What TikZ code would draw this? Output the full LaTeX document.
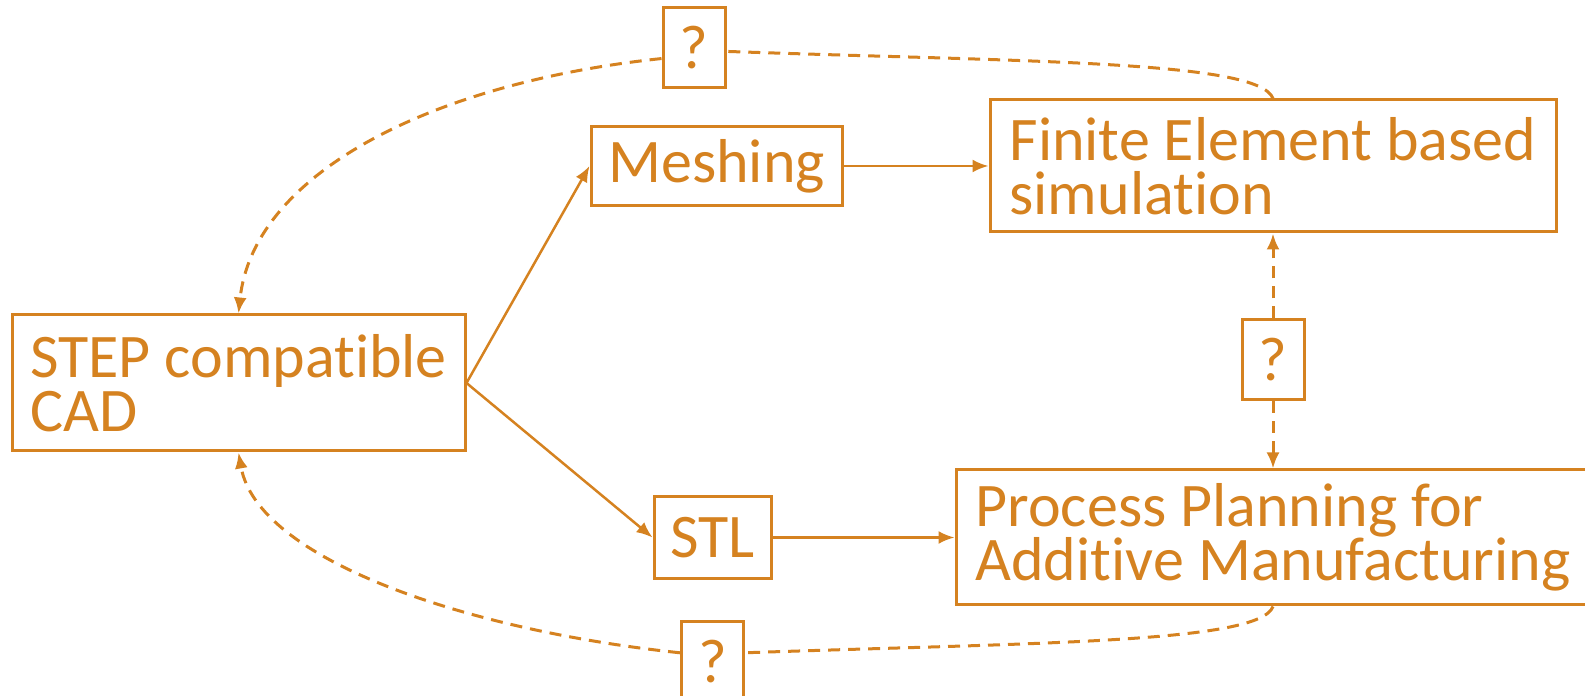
\documentclass[tikz,border=0pt]{standalone}
\usepackage{fontspec}
\setmainfont{Carlito}[Ligatures=NoCommon]
\usetikzlibrary
  {
    positioning,
    arrows.meta,
  }
\definecolor{ochre}{RGB}{213,130,32}
\newcommand\boxfont{\fontsize{62}{54}\selectfont\lineskiplimit=-60pt\relax}
\tikzset
  {
    >={Latex[length=16pt,width=13pt]},
    box/.style=
      {
        draw=ochre,
        line width=3pt,
        text=ochre,
        rectangle,
        inner sep=4pt,
        align=left,
        font=\boxfont,
      },
    query/.style={box, minimum width=62pt, minimum height=80pt},
    flow/.style={->, draw=ochre, line width=2.5pt},
    link/.style={flow, line width=3pt, dash pattern=on 12pt off 8pt},
  }
\begin{document}
\begin{tikzpicture}[x=1pt, y=1pt]
  \useasboundingbox (0,0) rectangle (1585,696);

  \node[box, minimum width=453pt, minimum height=136pt] (CAD) at (238.5,313) {STEP compatible\\CAD};
  \node[box, minimum width=566pt, minimum height=132pt] (FE) at (1273,530) {Finite Element based\\simulation};
  \node[box, minimum width=251pt, minimum height=79pt, left=145pt of FE] (mesh) {Meshing};
  \node[query, below=85pt of FE] (qmid) {?};
  \node[box, minimum width=634pt, minimum height=135pt, below=67pt of qmid] (PP) {Process Planning for\\Additive Manufacturing};
  \node[box, minimum width=117pt, minimum height=82pt, left=182pt of PP] (STL) {STL};
  \node[query, below=40pt of STL] (qbot) {?};
  \node[query] (qtop) at (694,648) {?};

  % main flow
  \draw[flow] (CAD.east) -- (mesh.west);
  \draw[flow] (CAD.east) -- (STL.west);
  \draw[flow] (mesh) -- (FE);
  \draw[flow] (STL) -- (PP);

  % open questions
  \draw[link] (qmid) -- (FE);
  \draw[link] (qmid) -- (PP);
  \draw[link, -] (FE.north) to[out=110, in=-2, out looseness=.19, in looseness=1.4] (qtop.-6);
  \draw[link] (qtop.198) to[out=186, in=84, out looseness=1.2, in looseness=.73] (CAD.north);
  \draw[link, -] (PP.south) to[out=-110, in=2, out looseness=.19, in looseness=1.4] (qbot.15);
  \draw[link] (qbot.165) to[out=174, in=-80, out looseness=1.15, in looseness=.57] (CAD.south);
\end{tikzpicture}
\end{document}
